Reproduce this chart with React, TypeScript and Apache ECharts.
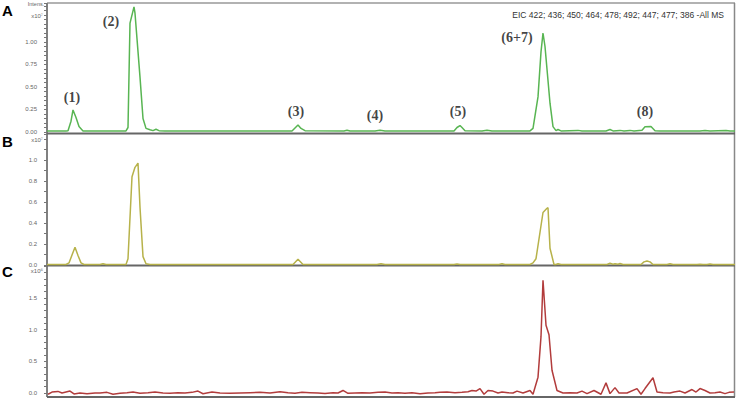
import React, { useEffect, useRef } from "react";
import * as echarts from "echarts";

// Retention axis in scan units (0 .. 688), intensities per panel
const traceA: [number, number][] = [
  [0, 0.012], [19, 0.012], [21, 0.015], [24, 0.12], [26, 0.245], [29, 0.16], [32, 0.06], [36, 0.012],
  [53, 0.012], [79, 0.012], [81, 0.05], [83, 1.21], [87, 1.39], [88, 1.32], [93, 0.61], [96, 0.15],
  [99, 0.04], [103, 0.025], [106, 0.015], [109, 0.03], [112, 0.015], [118, 0.012], [245, 0.012],
  [248, 0.045], [251, 0.078], [254, 0.04], [258, 0.015], [297, 0.012], [300, 0.02], [303, 0.012],
  [328, 0.012], [333, 0.02], [338, 0.012], [407, 0.012], [410, 0.05], [413, 0.072], [415, 0.05],
  [418, 0.015], [435, 0.012], [440, 0.02], [445, 0.012], [483, 0.012], [486, 0.04], [491, 0.39],
  [494, 0.89], [496, 1.1], [498, 0.95], [503, 0.32], [506, 0.06], [509, 0.015], [511, 0.028],
  [514, 0.012], [531, 0.018], [535, 0.012], [559, 0.012], [563, 0.028], [566, 0.012], [573, 0.018],
  [577, 0.012], [583, 0.018], [587, 0.012], [595, 0.02], [598, 0.058], [604, 0.062], [608, 0.015],
  [613, 0.012], [653, 0.012], [658, 0.018], [663, 0.012], [679, 0.016], [683, 0.012], [688, 0.012],
];

const traceB: [number, number][] = [
  [0, 0.005], [19, 0.005], [22, 0.02], [28, 0.17], [31, 0.09], [34, 0.02], [37, 0.005], [53, 0.005],
  [56, 0.012], [59, 0.005], [79, 0.005], [81, 0.06], [85, 0.84], [88, 0.93], [91, 0.97], [93, 0.55],
  [96, 0.08], [99, 0.012], [103, 0.005], [246, 0.005], [251, 0.055], [256, 0.005], [330, 0.005],
  [334, 0.012], [338, 0.005], [407, 0.005], [410, 0.01], [413, 0.005], [452, 0.005], [455, 0.012],
  [458, 0.005], [483, 0.005], [486, 0.02], [489, 0.06], [496, 0.5], [500, 0.54], [501, 0.545], [503, 0.16],
  [507, 0.005], [509, 0.005], [511, 0.012], [514, 0.005], [560, 0.005], [563, 0.016], [566, 0.008],
  [568, 0.012], [571, 0.008], [573, 0.014], [576, 0.005], [594, 0.005], [597, 0.03], [600, 0.038],
  [603, 0.03], [606, 0.005], [620, 0.005], [623, 0.012], [626, 0.005], [650, 0.005], [653, 0.008],
  [656, 0.005], [660, 0.005], [663, 0.01], [666, 0.005], [688, 0.005],
];

const traceC: [number, number][] = [
  [1, -0.02], [5, 0.015], [11, 0.025], [15, 0.0], [23, 0.03], [27, -0.015], [33, 0.0], [40, -0.01],
  [48, 0.0], [53, 0.0], [60, 0.01], [66, -0.02], [73, -0.005], [80, 0.005], [86, 0.015], [93, -0.005],
  [101, 0.005], [108, 0.015], [116, 0.0], [123, -0.005], [131, 0.005], [138, 0.0], [145, 0.01],
  [151, 0.03], [156, -0.012], [165, 0.015], [173, 0.0], [183, -0.005], [193, 0.0], [203, 0.005],
  [213, 0.01], [223, 0.0], [233, 0.02], [241, 0.005], [248, -0.005], [255, 0.01], [263, 0.005],
  [271, 0.0], [278, -0.008], [286, 0.005], [291, 0.0], [296, 0.04], [301, -0.005], [308, 0.0],
  [315, 0.005], [323, 0.0], [331, 0.01], [338, 0.015], [345, 0.0], [351, 0.005], [358, -0.005],
  [365, 0.005], [373, -0.01], [381, 0.0], [388, 0.005], [393, 0.01], [400, 0.015], [408, 0.005],
  [415, 0.01], [421, 0.02], [425, 0.04], [429, 0.03], [433, 0.07], [437, -0.02], [441, 0.04],
  [446, 0.03], [451, 0.0], [455, 0.015], [461, 0.005], [466, 0.0], [470, 0.03], [476, 0.0],
  [483, 0.04], [486, -0.02], [491, 0.25], [494, 0.89], [496, 1.78], [499, 1.07], [502, 0.92],
  [505, 0.36], [510, 0.04], [516, 0.0], [523, 0.005], [530, 0.0], [535, 0.03], [540, -0.01],
  [547, 0.04], [554, -0.02], [559, 0.16], [563, -0.01], [568, 0.085], [572, 0.0], [580, 0.0],
  [590, 0.07], [594, -0.02], [598, 0.07], [606, 0.24], [610, 0.015], [616, 0.005], [623, 0.0],
  [627, 0.015], [633, 0.03], [638, 0.0], [645, 0.055], [649, 0.015], [653, 0.07], [658, 0.04],
  [663, 0.0], [668, 0.005], [673, 0.015], [678, -0.01], [682, 0.01], [687, 0.015],
];

const peakNames = ["(1)", "(2)", "(3)", "(4)", "(5)", "(6+7)", "(8)"];
const peakLabelX = [25, 64, 249, 328, 411, 470, 598];
const peakLabelY = [0.378, 1.226, 0.226, 0.186, 0.233, 1.05, 0.23];

const panelLetters = ["A", "B", "C"];
const yMax = [1.4333, 1.2476, 2.022];
const yInterval = [0.25, 0.2, 0.5];
const yMinorSplit = [5, 2, 5];
const yDecimals = [2, 1, 1];
const yHideFrom = [1.2, 1.15, 1.9];
const exponentLabels = ["x10⁷", "x10⁷", "x10⁶"];
const legendText = "EIC 422; 436; 450; 464; 478; 492; 447; 477; 386 -All MS";

const lineColors = ["#58b552", "#b7b24a", "#b23c3c"];

const PL = 47;
const PR = 735;
const gridTops = [3, 134, 265];
const gridHeights = [129, 131, 128];

export default function App() {
  const ref = useRef<HTMLDivElement>(null);

  useEffect(() => {
    const chart = echarts.init(ref.current!, null, { renderer: "svg" });
    const traces = [traceA, traceB, traceC];

    const option: any = {
      animation: false,
      backgroundColor: "#ffffff",
      grid: gridTops.map((t, i) => ({
        left: PL,
        top: t,
        width: PR - PL,
        height: gridHeights[i],
        containLabel: false,
      })),
      xAxis: gridTops.map((_, i) => ({
        type: "value",
        gridIndex: i,
        min: 0,
        max: 688,
        show: false,
      })),
      yAxis: gridTops.map((_, i) => ({
        type: "value",
        gridIndex: i,
        min: 0,
        max: yMax[i],
        interval: yInterval[i],
        axisLine: { show: false },
        splitLine: { show: false },
        axisTick: { show: true, length: 3, lineStyle: { color: "#777", width: 1 } },
        minorTick: {
          show: true,
          splitNumber: yMinorSplit[i],
          length: 3,
          lineStyle: { color: "#777", width: 1 },
        },
        axisLabel: {
          show: true,
          showMaxLabel: false,
          fontSize: 6,
          color: "#666",
          fontFamily: "Liberation Sans, Arial, sans-serif",
          margin: 10,
          formatter: (v: number) => (v >= yHideFrom[i] ? "" : v.toFixed(yDecimals[i])),
        },
      })),
      series: [
        ...traces.map((d, i) => ({
          type: "line",
          xAxisIndex: i,
          yAxisIndex: i,
          data: d,
          showSymbol: false,
          symbol: "none",
          clip: false,
          lineStyle: { color: lineColors[i], width: 1.5 },
          z: 3,
        })),
        {
          type: "scatter",
          xAxisIndex: 0,
          yAxisIndex: 0,
          symbolSize: 1,
          itemStyle: { color: "rgba(0,0,0,0)" },
          data: peakNames.map((n, k) => ({ name: n, value: [peakLabelX[k], peakLabelY[k]] })),
          label: {
            show: true,
            position: "inside",
            formatter: (p: any) => p.name,
            fontFamily: "Liberation Serif, Times New Roman, serif",
            fontWeight: "bold",
            fontSize: 14,
            color: "#111",
          },
          z: 4,
        },
      ],
      graphic: [
        // frame
        { type: "line", shape: { x1: PL, y1: 3, x2: PR, y2: 3 }, style: { stroke: "#999", lineWidth: 1.5 }, silent: true },
        { type: "line", shape: { x1: PR - 0.5, y1: 3, x2: PR - 0.5, y2: 397 }, style: { stroke: "#888", lineWidth: 1.5 }, silent: true },
        { type: "line", shape: { x1: PL, y1: 3, x2: PL, y2: 397 }, style: { stroke: "#808080", lineWidth: 2 }, silent: true },
        { type: "line", shape: { x1: PL, y1: 133.5, x2: PR, y2: 133.5 }, style: { stroke: "#666", lineWidth: 2 }, silent: true },
        { type: "line", shape: { x1: PL, y1: 265.5, x2: PR, y2: 265.5 }, style: { stroke: "#666", lineWidth: 2 }, silent: true },
        { type: "line", shape: { x1: PL, y1: 397, x2: PR, y2: 397 }, style: { stroke: "#666", lineWidth: 2 }, silent: true },
        // panel letters
        ...panelLetters.map((t, i) => ({
          type: "text",
          x: 2,
          y: [10, 141.5, 271.5][i],
          style: {
            text: t,
            fontFamily: "Liberation Sans, Arial, sans-serif",
            fontWeight: "bold",
            fontSize: 15,
            fill: "#000",
            verticalAlign: "middle",
          },
          silent: true,
        })),
        // Intens. label
        {
          type: "text",
          x: 36,
          y: 4,
          style: {
            text: "Intens.",
            fontFamily: "Liberation Sans, Arial, sans-serif",
            fontSize: 5.5,
            fill: "#666",
            align: "center",
            verticalAlign: "middle",
          },
          silent: true,
        },
        ...exponentLabels.map((t, i) => ({
          type: "text",
          x: 43,
          y: [15.5, 139.5, 270.5][i],
          style: {
            text: t,
            fontFamily: "Liberation Sans, Arial, sans-serif",
            fontSize: 6,
            fill: "#666",
            align: "right",
            verticalAlign: "middle",
          },
          silent: true,
        })),
        {
          type: "text",
          x: 724,
          y: 15,
          style: {
            text: legendText,
            fontFamily: "Liberation Sans, Arial, sans-serif",
            fontSize: 8.5,
            fill: "#333",
            align: "right",
            verticalAlign: "middle",
          },
          silent: true,
        },
      ],
    };

    chart.setOption(option);
    return () => chart.dispose();
  }, []);

  return (
    <div
      ref={ref}
      style={{ width: 737, height: 401, position: "absolute", left: 0, top: 0 }}
    />
  );
}
